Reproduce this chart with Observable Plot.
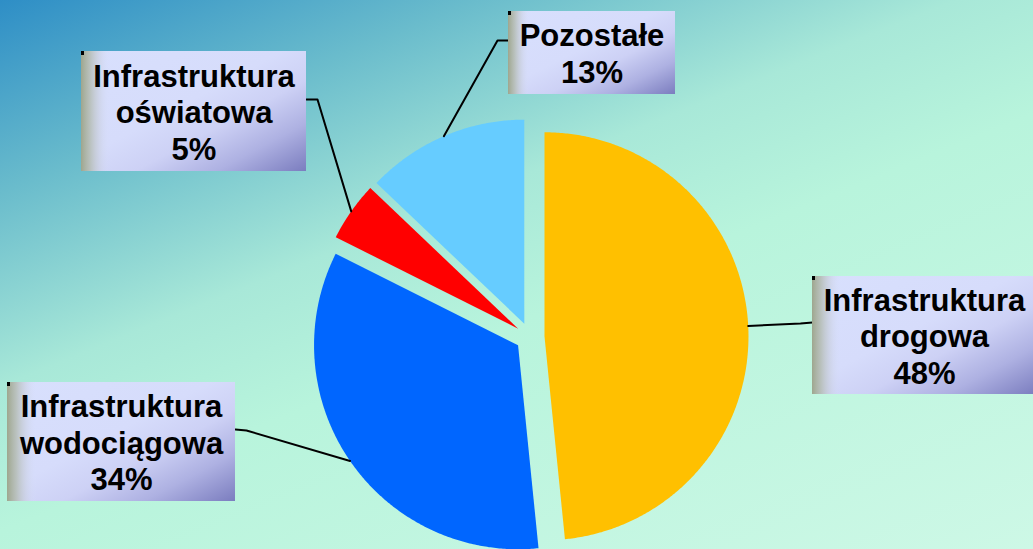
<!DOCTYPE html>
<html>
<head>
<meta charset="utf-8">
<script src="https://cdn.jsdelivr.net/npm/d3@7"></script>
<script src="https://cdn.jsdelivr.net/npm/@observablehq/plot@0.6"></script>
<style>
html, body { margin: 0; padding: 0; width: 1033px; height: 549px; overflow: hidden; }
#chart {
  width: 1033px; height: 549px;
  background: linear-gradient(158deg, #2e8ec6 0%, #6abccc 20%, #a8e8d8 40%, #b8f4dc 55%, #cdf8e6 100%);
}
#chart svg { display: block; }
</style>
</head>
<body>
<div id="chart"></div>
<script>
// ---- data ----
const categories = ["Infrastruktura drogowa", "Infrastruktura wodociągowa", "Infrastruktura oświatowa", "Pozostałe"];
const values = [48.4, 34.0, 4.7, 12.9];
const labelNames = ["Infrastruktura\ndrogowa", "Infrastruktura\nwodociągowa", "Infrastruktura\noświatowa", "Pozostałe"];
const sliceColors = ["#FFC000", "#0066FF", "#FF0000", "#66CCFF"];

// ---- layout (not data) ----
const W = 1033, H = 549;
const pie = {cx: 529.5, cy: 336.5, r: 204, explode: 14.5};
const boxes = [
  {x1: 812, y1: 276, x2: 1036, y2: 394},
  {x1: 7, y1: 382, x2: 235, y2: 501},
  {x1: 81, y1: 51, x2: 306, y2: 171},
  {x1: 508, y1: 11, x2: 675, y2: 94}
];
const elbows = [
  [[800, 323], [812, 322]],
  [[246, 430], [235, 429]],
  [[317, 99], [306, 99]],
  [[497, 40], [508, 40]]
];

// ---- geometry from values ----
const total = d3.sum(values);
const rad = Math.PI / 180;
let acc = 0;
const slices = values.map((v, i) => {
  const a0 = acc / total * 360;
  acc += v;
  const a1 = acc / total * 360;
  const m = (a0 + a1) / 2;
  const ox = pie.cx + pie.explode * Math.sin(m * rad);
  const oy = pie.cy - pie.explode * Math.cos(m * rad);
  return {i, name: categories[i], a0, a1, m, ox, oy, color: sliceColors[i]};
});
const slicePts = [];
for (const s of slices) {
  slicePts.push({name: s.name, color: s.color, x: s.ox, y: s.oy});
  const n = Math.max(8, Math.ceil((s.a1 - s.a0) / 0.5));
  for (let k = 0; k <= n; k++) {
    const a = (s.a0 + (s.a1 - s.a0) * k / n) * rad;
    slicePts.push({name: s.name, color: s.color, x: s.ox + pie.r * Math.sin(a), y: s.oy - pie.r * Math.cos(a)});
  }
  slicePts.push({name: s.name, color: s.color, x: s.ox, y: s.oy});
}
const leaderPts = [];
slices.forEach((s, i) => {
  leaderPts.push({name: s.name, x: s.ox + pie.r * Math.sin(s.m * rad), y: s.oy - pie.r * Math.cos(s.m * rad)});
  for (const [x, y] of elbows[i]) leaderPts.push({name: s.name, x, y});
});
const labels = slices.map((s, i) => ({
  name: s.name,
  ...boxes[i],
  cx: (boxes[i].x1 + boxes[i].x2) / 2,
  cy: (boxes[i].y1 + boxes[i].y2) / 2,
  text: labelNames[i] + "\n" + Math.round(values[i] / total * 100) + "%"
}));

const svg = Plot.plot({
  width: W, height: H,
  margin: 0,
  x: {domain: [0, W], range: [0, W], axis: null},
  y: {domain: [0, H], range: [0, H], axis: null},
  color: {type: "identity"},
  style: {background: "transparent", overflow: "visible"},
  marks: [
    Plot.line(slicePts, {x: "x", y: "y", z: "name", fill: "color", stroke: "none", curve: "linear"}),
    Plot.line(leaderPts, {x: "x", y: "y", z: "name", stroke: "black", strokeWidth: 2, curve: "linear"}),
    Plot.rect(labels, {x1: "x1", x2: "x2", y1: "y1", y2: "y2", fill: "url(#boxBase)"}),
    Plot.rect(labels, {x1: "x1", x2: "x2", y1: "y1", y2: "y2", fill: "url(#boxLeft)"}),
    Plot.rect(labels, {x1: "x1", x2: d => d.x1 + 3, y1: "y1", y2: d => d.y1 + 4, fill: "black"}),
    Plot.text(labels, {
      x: "cx", y: "cy", text: "text",
      fontSize: 31, fontWeight: "bold", fontFamily: "'Liberation Sans', Arial, sans-serif",
      lineHeight: 1.18, fill: "black", textAnchor: "middle", lineAnchor: "middle"
    })
  ]
});

const defs = d3.select(svg).insert("defs", ":first-child");
const g1 = defs.append("linearGradient").attr("id", "boxBase")
  .attr("x1", 0).attr("y1", 0).attr("x2", 1).attr("y2", 1);
[[0, "#d8e0fd"], [0.45, "#d6dcfb"], [0.62, "#cdd1f5"], [0.8, "#aeb1e2"], [1, "#7b7dbf"]]
  .forEach(([o, c]) => g1.append("stop").attr("offset", o).attr("stop-color", c));
const g2 = defs.append("linearGradient").attr("id", "boxLeft")
  .attr("x1", 0).attr("y1", 0).attr("x2", 1).attr("y2", 0);
[[0, "#9ea68e", 1], [0.04, "#b2baae", 0.8], [0.08, "#c6ccd6", 0.5], [0.13, "#d8e0fd", 0]]
  .forEach(([o, c, a]) => g2.append("stop").attr("offset", o).attr("stop-color", c).attr("stop-opacity", a));

document.getElementById("chart").appendChild(svg);
</script>
</body>
</html>
